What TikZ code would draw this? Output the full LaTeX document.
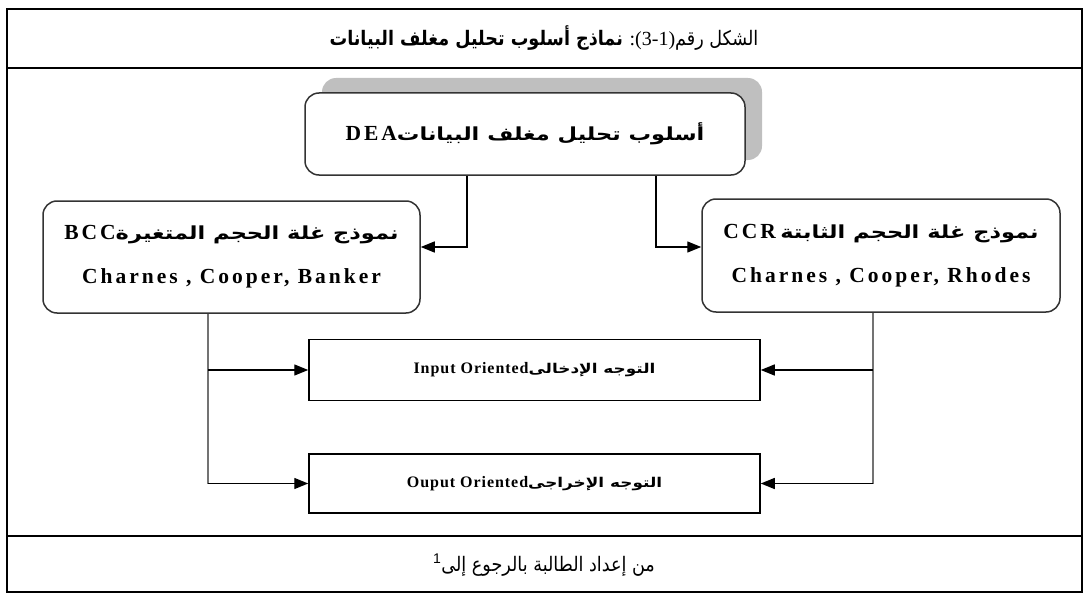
\documentclass[tikz,border=0pt]{standalone}
\usepackage{fontspec}
\setmainfont{Liberation Serif}
\newfontfamily\arabicfont[Script=Arabic, FakeStretch=0.88]{DejaVu Sans}
\newfontfamily\arabicbox[Script=Arabic, FakeStretch=1.25]{DejaVu Sans}
\newfontfamily\boxfont[LetterSpace=6]{Liberation Serif}
\newfontfamily\modelfont[LetterSpace=14]{Liberation Serif}
\newfontfamily\supfont{Liberation Sans}
\TeXXeTstate=1
\usetikzlibrary{arrows.meta,positioning}
\colorlet{shadowBg}{black!25}
\colorlet{boxBorder}{black!80}
\colorlet{stemLine}{black!55}
\tikzset{
  modelbox/.style={draw=boxBorder, line width=1.5pt, rounded corners=14pt, fill=white,
    align=center, inner sep=0pt, font=\fontsize{18}{44}\selectfont},
  orientbox/.style={draw=black, line width=1.5pt, minimum width=451pt, minimum height=61pt,
    inner sep=0pt, font=\fontsize{16}{20}\selectfont},
  link/.style={line width=1.4pt, -{Triangle[length=14pt,width=11pt]}},
  stem/.style={line width=2pt, stemLine},
  frameline/.style={line width=2.6pt}
}
\newcommand{\latin}[1]{{\modelfont\bfseries\fontsize{21.5}{24}\selectfont #1}}

\begin{document}
\begin{tikzpicture}[x=1pt,y=-1pt]
\useasboundingbox (0,0) rectangle (1088,594);

% table frame
\draw[frameline] (7,9) rectangle (1082,592);
\draw[frameline] (7,68) -- (1082,68);
\draw[frameline] (7,536) -- (1082,536);

\node (title) at (544,38) {\fontsize{20}{24}\selectfont
  \beginR{\arabicfont الشكل رقم}\beginL(3-1)\endL: {\arabicfont\bfseries نماذج أسلوب تحليل مغلف البيانات}\endR};

% top box with its shadow
\fill[shadowBg, rounded corners=14pt] (322,78) rectangle (762,160);
\node[modelbox, minimum width=440pt, minimum height=82pt] (dea) at (525,134)
  {\beginR{\arabicbox\bfseries أسلوب تحليل مغلف البيانات}\beginL\latin{DEA}\endL\endR};

\node[modelbox, minimum width=377pt, minimum height=112pt] (bcc) at (231.5,257)
  {\beginR{\arabicbox\bfseries نموذج غلة الحجم المتغيرة}\beginL\latin{BCC}\endL\endR\\
   \latin{Charnes , Cooper, Banker}};
\node[modelbox, minimum width=358pt, minimum height=113pt] (ccr) at (881,255.5)
  {\beginR{\arabicbox\bfseries نموذج غلة الحجم الثابتة} \beginL\latin{CCR}\endL\endR\\
   \latin{Charnes , Cooper, Rhodes}};

\node[orientbox] (inp) at (534.5,370)
  {\beginR{\arabicbox\bfseries\fontsize{13.5}{20}\selectfont التوجه الإدخالى}\beginL{\boxfont\bfseries Input Oriented}\endL\endR};
\node[orientbox, minimum height=59pt] (outp) at (534.5,483.5)
  {\beginR{\arabicbox\bfseries\fontsize{13.5}{20}\selectfont التوجه الإخراجى}\beginL{\boxfont\bfseries Ouput Oriented}\endL\endR};

\node (source) at (544,565) {\fontsize{20}{24}\selectfont
  \beginR{\arabicfont من إعداد الطالبة بالرجوع إلى}\beginL\textsuperscript{\supfont 1}\endL\endR};

% links
\draw[link] ([xshift=-58pt]dea.south) |- ([yshift=10pt]bcc.east);
\draw[link] ([xshift=131pt]dea.south) |- ([yshift=8.5pt]ccr.west);

\coordinate (lstem) at ([xshift=-23.5pt]bcc.south);
\coordinate (rstem) at ([xshift=-8pt]ccr.south);
\draw[stem] (lstem) -- (lstem |- outp.west);
\draw[stem] (rstem) -- (rstem |- outp.east);
\draw[link] (lstem |- inp.west) -- (inp.west);
\draw[link] (lstem |- outp.west) -- (outp.west);
\draw[link] (rstem |- inp.east) -- (inp.east);
\draw[link] (rstem |- outp.east) -- (outp.east);

\end{tikzpicture}
\end{document}
